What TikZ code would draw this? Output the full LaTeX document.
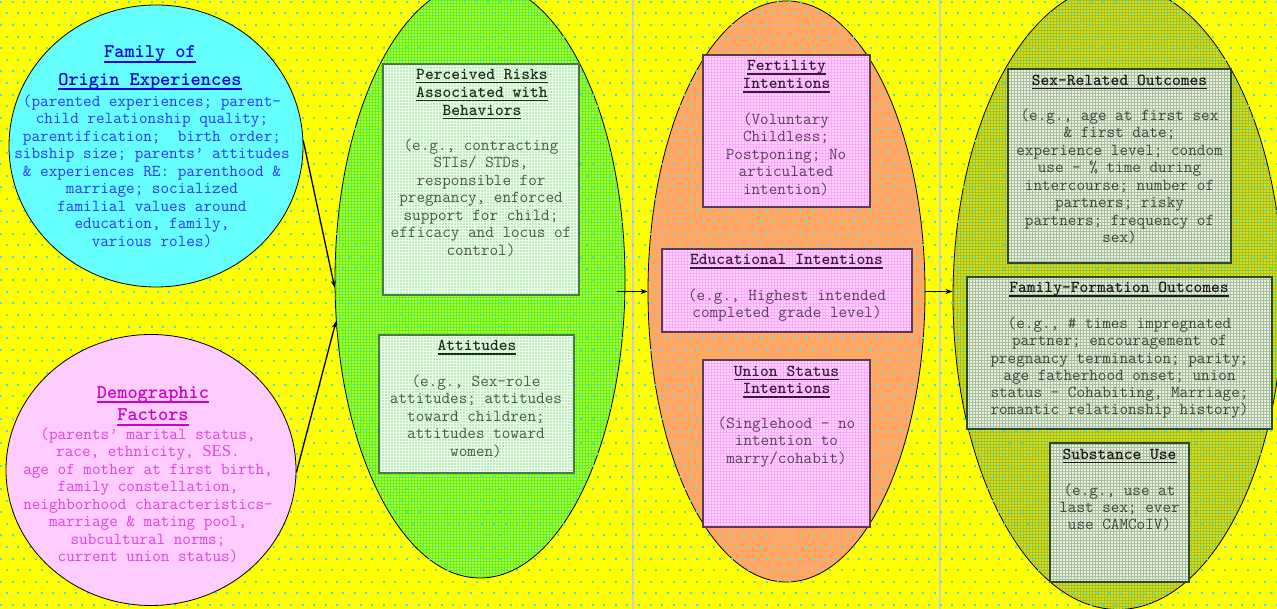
\documentclass[tikz,border=0pt]{standalone}
\usepackage{fontspec}
\usetikzlibrary{shapes.geometric,arrows.meta,patterns,calc}
\newfontfamily\tms{Liberation Serif}
\newcommand\cour{\ttfamily}
\frenchspacing
\newsavebox\ulbox
\newcommand\myul[1]{\sbox\ulbox{#1}\rlap{\rule[-4.2pt]{\wd\ulbox}{1.6pt}}\usebox\ulbox}
\newcommand\myulh[1]{\sbox\ulbox{#1}\rlap{\rule[-5pt]{\wd\ulbox}{2pt}}\usebox\ulbox}
\newcommand\st{\rule{0pt}{14pt}}
\newcommand\sth{\rule{0pt}{16pt}}
\definecolor{bgy}{HTML}{FFFF00}
\definecolor{dotc}{HTML}{3CE6E6}
\definecolor{famfill}{HTML}{66FFFF}
\definecolor{demfill}{HTML}{FFCCFF}
\definecolor{famhd}{HTML}{0000E0}
\definecolor{fambd}{HTML}{3333FF}
\definecolor{demhd}{HTML}{CC00CC}
\definecolor{dembd}{HTML}{DD44DD}
\definecolor{eAbase}{HTML}{AAFF33}
\definecolor{eAgrid}{HTML}{66F022}
\definecolor{eBbase}{HTML}{FFB040}
\definecolor{eBgrid}{HTML}{FFA080}
\definecolor{eCbase}{HTML}{D0E020}
\definecolor{eCgrid}{HTML}{A8C020}
\definecolor{bAbase}{HTML}{B8F0B8}
\definecolor{bAgrid}{HTML}{F4FFF4}
\definecolor{bAline}{HTML}{4A7A4A}
\definecolor{bBbase}{HTML}{FFD8FF}
\definecolor{bBgrid}{HTML}{FFA8FF}
\definecolor{bBline}{HTML}{5A3A5A}
\definecolor{bCbase}{HTML}{E8F0E0}
\definecolor{bCgrid}{HTML}{A8C0A0}
\definecolor{bCline}{HTML}{2A4A2A}
\definecolor{vln}{HTML}{D0D0C8}
\definecolor{tAt}{HTML}{1E2E1E}
\definecolor{tAb}{HTML}{4A5A4A}
\definecolor{tBt}{HTML}{3A1A3A}
\definecolor{tBb}{HTML}{5A405A}
\definecolor{tCt}{HTML}{1A1A1A}
\definecolor{tCb}{HTML}{3F4A3F}
\tikzset{
  txt/.style={align=center, inner sep=0pt, anchor=north, font=\cour\fontsize{16.7}{17.5}\selectfont},
  ttl/.style={align=center, inner sep=0pt, anchor=north, font=\cour\bfseries\fontsize{16.7}{18}\selectfont},
  hd/.style={align=center, inner sep=0pt, anchor=north, font=\cour\bfseries\fontsize{19.4}{#1}\selectfont},
  circ/.style={ellipse, draw=black, line width=0.8pt, inner sep=0pt},
  bigell/.style={ellipse, draw=black, line width=0.8pt, inner sep=0pt},
  boxA/.style={rectangle, draw=bAline, line width=1.2pt, inner sep=0pt, preaction={fill=bAbase}, pattern=grid, pattern color=bAgrid},
  boxB/.style={rectangle, draw=bBline, line width=1.2pt, inner sep=0pt, preaction={fill=bBbase}, pattern=grid, pattern color=bBgrid},
  boxC/.style={rectangle, draw=bCline, line width=1.2pt, inner sep=0pt, preaction={fill=bCbase}, pattern=grid, pattern color=bCgrid},
  arr/.style={-{Stealth[length=7pt,width=5pt]}, line width=1.3pt, black},
}
\begin{document}
\begin{tikzpicture}[x=1pt,y=1pt]
\useasboundingbox (0,0) rectangle (1277,609);
\clip (0,0) rectangle (1277,609);
\fill[bgy] (0,0) rectangle (1277,609);
\draw[vln, line width=1.6pt] (633,0) -- (633,609);
\draw[vln, line width=1.6pt] (940,0) -- (940,609);
% big ellipses
\node[bigell, minimum width=290, minimum height=596, preaction={fill=eAbase}, pattern=grid, pattern color=eAgrid] (e1) at (480,329) {};
\node[bigell, minimum width=277, minimum height=581, preaction={fill=eBbase}, pattern=grid, pattern color=eBgrid] (e2) at (786.5,317.5) {};
\node[bigell, minimum width=330, minimum height=625, preaction={fill=eCbase}, pattern=grid, pattern color=eCgrid] (e3) at (1118,312) {};
% dots
\foreach \i in {0,...,52}{
  \pgfmathsetmacro\yy{4+\i*11.6}
  \pgfmathsetmacro\ph{mod(\i,2)*5.8}
  \draw[dotc, line width=2pt, dash pattern=on 2pt off 9.6pt, dash phase=\ph pt] (0,\yy) -- (1277,\yy);
}
% circles
\node[circ, fill=famfill, minimum width=294, minimum height=282] (fam) at (156,463) {};
\node[circ, fill=demfill, minimum width=290, minimum height=271] (dem) at (151,139) {};
% boxes
\node[boxA, minimum width=196, minimum height=231] (b1) at (481,429.5) {};
\node[boxA, minimum width=195, minimum height=138] (b2) at (476.5,205) {};
\node[boxB, minimum width=167, minimum height=152] (b3) at (786.5,478) {};
\node[boxB, minimum width=250, minimum height=83] (b4) at (787,318.5) {};
\node[boxB, minimum width=167, minimum height=167] (b5) at (786.5,165.5) {};
\node[boxC, minimum width=223, minimum height=194] (b6) at (1119.5,443) {};
\node[boxC, minimum width=305, minimum height=152] (b7) at (1119.5,256) {};
\node[boxC, minimum width=139, minimum height=139] (b8) at (1119.5,96.5) {};
% circle texts
\node[hd=27.5pt, text=famhd] (famh) at (150,567.5) {\sth\myulh{Family of}\\\myulh{Origin Experiences}};
\node[txt, text=fambd] (famb) at (152,517) {\st(parented experiences; parent-\\child relationship quality;\\parentification;~ birth order;\\sibship size; parents’ attitudes\\\& experiences RE: parenthood \&\\marriage; socialized\\familial values around\\education, family,\\various roles)};
\node[hd=22.7pt, text=demhd] (demh) at (153,227) {\sth\myulh{Demographic}\\\myulh{Factors}};
\node[txt, text=dembd] (demb) at (148,184) {\st(parents’ marital status,\\race, ethnicity, {\tms SES}.\\age of mother at first birth,\\family constellation,\\neighborhood characteristics-\\marriage \& mating pool,\\subcultural norms;\\current union status)};
% box texts
\node[ttl, text=tAt] (b1t) at (482,544) {\st\myul{Perceived Risks}\\\myul{Associated with}\\\myul{Behaviors}};
\node[txt, text=tAb] (b1b) at (481,473) {\st(e.g., contracting\\STIs/ STDs,\\responsible for\\pregnancy, enforced\\support for child;\\efficacy and locus of\\control)};
\node[ttl, text=tAt] (b2t) at (477,272.3) {\st\myul{Attitudes}};
\node[txt, text=tAb] (b2b) at (476,237) {\st(e.g., Sex-role\\attitudes; attitudes\\toward children;\\attitudes toward\\women)};
\node[ttl, text=tBt, font=\cour\bfseries\fontsize{16.7}{17.6}\selectfont] (b3t) at (786.5,552.3) {\st\myul{Fertility}\\\myul{Intentions}};
\node[txt, text=tBb] (b3b) at (786,499) {\st(Voluntary\\Childless;\\Postponing; No\\articulated\\intention)};
\node[ttl, text=tBt] (b4t) at (786.5,358.7) {\st\myul{Educational Intentions}};
\node[txt, text=tBb] (b4b) at (787,323) {\st(e.g., Highest intended\\completed grade level)};
\node[ttl, text=tBt, font=\cour\bfseries\fontsize{16.7}{17.3}\selectfont] (b5t) at (786.5,247) {\st\myul{Union Status}\\\myul{Intentions}};
\node[txt, text=tBb] (b5b) at (786.5,194.7) {\st(Singlehood – no\\intention to\\marry/cohabit)};
\node[ttl, text=tCt] (b6t) at (1119.5,538) {\st\myul{Sex-Related Outcomes}};
\node[txt, text=tCb] (b6b) at (1119.5,503) {\st(e.g., age at first sex\\\& first date;\\experience level; condom\\use – \% time during\\intercourse; number of\\partners; risky\\partners; frequency of\\sex)};
\node[ttl, text=tCt] (b7t) at (1119,330.3) {\st\myul{Family-Formation Outcomes}};
\node[txt, text=tCb, font=\cour\fontsize{16.7}{17.3}\selectfont] (b7b) at (1119.5,294.7) {\st(e.g., \# times impregnated\\partner; encouragement of\\pregnancy termination; parity;\\age fatherhood onset; union\\status – Cohabiting, Marriage;\\romantic relationship history)};
\node[ttl, text=tCt] (b8t) at (1119.5,164) {\st\myul{Substance Use}};
\node[txt, text=tCb, font=\cour\fontsize{16.7}{17.2}\selectfont] (b8b) at (1119.5,128) {\st(e.g., use at\\last sex; ever\\use CAMCoIV)};
% arrows
\coordinate (a3s) at ($(e1.east |- e2.west)+(-8,0)$);
\draw[arr] (fam.2) -- (e1.183);
\draw[arr] (dem.-1) -- (e1.196);
\draw[arr] (a3s) -- (e2.west);
\draw[arr] (e2.east) -- (e3.west |- e2.east);
\end{tikzpicture}
\end{document}
